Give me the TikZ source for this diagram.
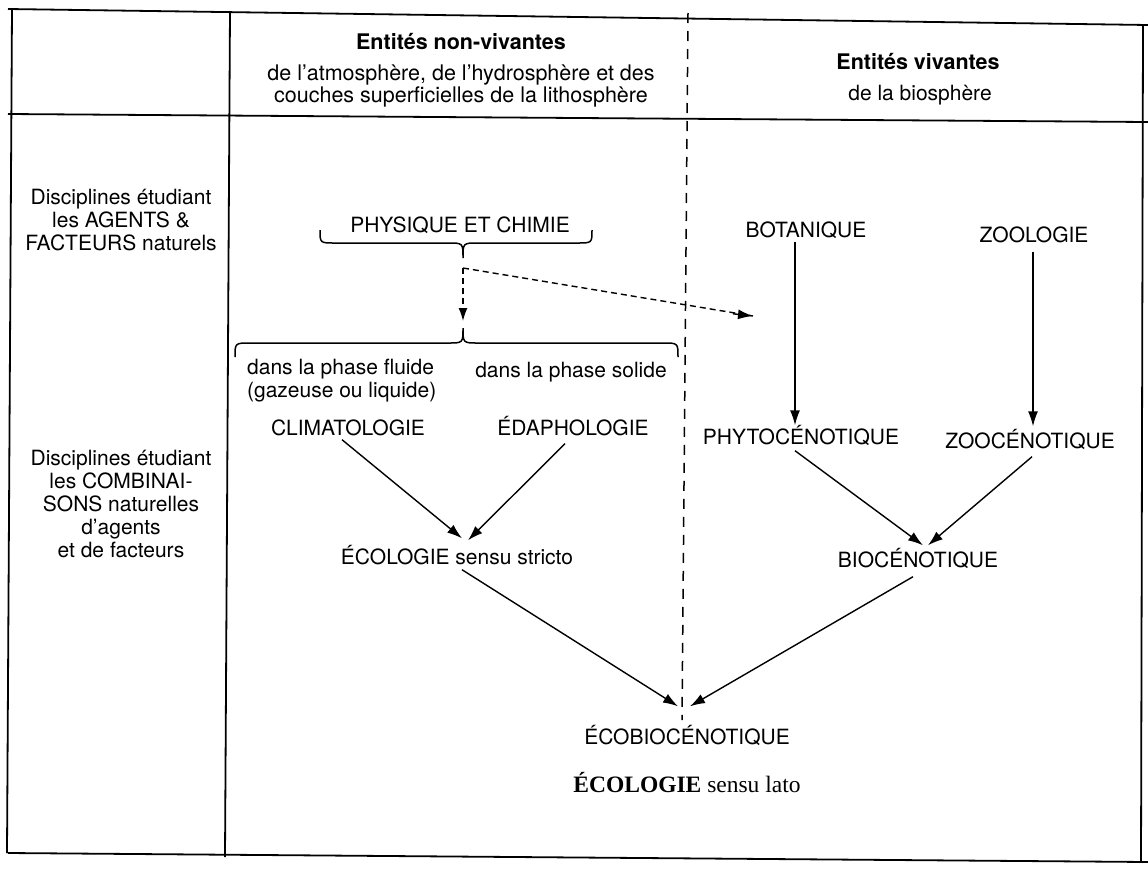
\documentclass[tikz,border=0pt]{standalone}
\usepackage{fontspec}
\setmainfont{TeX Gyre Heros}
\newfontfamily\serifx{Liberation Serif}
\usetikzlibrary{arrows.meta,calc}
\tikzset{
  word/.style={font=\fontsize{21}{23}\selectfont, inner sep=1pt, text height=15pt, text depth=0pt},
  block/.style={font=\fontsize{21}{23}\selectfont, inner sep=1pt, align=center},
  boldword/.style={word, font=\fontsize{21.5}{23}\selectfont\bfseries},
  arr/.style={line width=1.4pt, -{Latex[length=15pt,width=10pt]}},
  darr/.style={line width=1.4pt, dash pattern=on 6pt off 4pt, -{Latex[length=13pt,width=9pt]}},
  dline/.style={line width=1.4pt, dash pattern=on 6pt off 4pt},
  frame/.style={line width=1.8pt},
  vdash/.style={line width=1.5pt, dash pattern=on 10pt off 8pt},
  brace/.style={line width=1.5pt},
}
\begin{document}
\begin{tikzpicture}[x=1pt,y=-1pt]
\useasboundingbox (0,0) rectangle (1148,868);
% frame
\draw[frame] (8,9) -- (1148,25);
\draw[frame] (8,114) -- (1148,122);
\draw[frame] (8,853) -- (1148,862);
\draw[frame] (12,9) -- (7,853);
\draw[frame] (230,11) -- (225,857);
\draw[frame] (1143,24) -- (1141,862);
\draw[vdash] (688,13) -- (682,720);

% header
\node[boldword] (nv) at (461,42) {Entités non-vivantes};
\node[block, font=\fontsize{21.5}{22}\selectfont] (nv2) at (461,86) {de l'atmosphère, de l'hydrosphère et des\\couches superficielles de la lithosphère};
\node[boldword] (v) at (918,62) {Entités vivantes};
\node[word] (v2) at (920,93) {de la biosphère};

% left column
\node[block] (ag) at (121,220) {Disciplines étudiant\\les AGENTS \&\\FACTEURS naturels};
\node[block] (co) at (121,504) {Disciplines étudiant\\les COMBINAI-\\SONS naturelles\\d'agents\\et de facteurs};

% physique et chimie
\node[word] (pc) at (460,225) {PHYSIQUE ET CHIMIE};
\draw[brace] (320,230) .. controls (320,243) .. (335,243) -- (448,243) .. controls (463,243) .. (463,258)
  .. controls (463,243) .. (478,243) -- (577,243) .. controls (592,243) .. (592,230);
\coordinate (split) at (463,268);
\coordinate (btip) at (463,328);
\coordinate (dend) at (753,316);
\draw[dline] (split) -- (dend);
\draw[darr] (split) -- ($(btip)+(0,-7)$);
\draw[brace] (235,357) .. controls (235,343) .. (250,343) -- (448,343) .. controls (463,343) .. (463,328)
  .. controls (463,343) .. (478,343) -- (663,343) .. controls (678,343) .. (678,357);
\draw[arr] ($(dend)+(-20,-2.2)$) -- (dend);

\node[block, align=left, anchor=west] (fl) at (246,381) {dans la phase fluide\\(gazeuse ou liquide)};
\node[word] (so) at (571,370) {dans la phase solide};

\node[word] (clim) at (348,428) {CLIMATOLOGIE};
\node[word] (eda) at (573,428) {ÉDAPHOLOGIE};
\node[word] (ecos) at (457,557) {ÉCOLOGIE sensu stricto};

\node[word] (bot) at (806,230) {BOTANIQUE};
\node[word] (zoo) at (1034,235) {ZOOLOGIE};
\node[word] (phy) at (801,437) {PHYTOCÉNOTIQUE};
\node[word] (zooc) at (1030,441) {ZOOCÉNOTIQUE};
\node[word] (bio) at (918,560) {BIOCÉNOTIQUE};
\node[word] (ecob) at (687,737) {ÉCOBIOCÉNOTIQUE};
\node[inner sep=1pt, font=\fontsize{23.5}{26}\serifx] (ecol) at (687,783) {\textbf{ÉCOLOGIE} sensu lato};

\draw[arr] ([xshift=-6pt,yshift=-3pt]clim.south) -- ($(ecos.north)+(5,-10)$);
\draw[arr] ([xshift=-8pt,yshift=-7pt]eda.south) -- ($(ecos.north)+(11,-8)$);
\draw[arr] ([xshift=5pt,yshift=-4pt]ecos.south) -- ($(ecob.north)+(-9,-22)$);
\draw[arr] ([xshift=-11pt,yshift=-3pt]bot.south) -- ($(phy.north)+(-6,-3)$);
\draw[arr] ([xshift=-1pt,yshift=-8pt]zoo.south) -- ($(zooc.north)+(3,-6)$);
\draw[arr] ([xshift=-6pt,yshift=-5pt]phy.south) -- ($(bio.north)+(5,-6)$);
\draw[arr] ([xshift=2pt,yshift=-7pt]zooc.south) -- ($(bio.north)+(10,-6)$);
\draw[arr] ([xshift=-5pt,yshift=-8pt]bio.south) -- ($(ecob.north)+(3,-22)$);
\end{tikzpicture}
\end{document}
